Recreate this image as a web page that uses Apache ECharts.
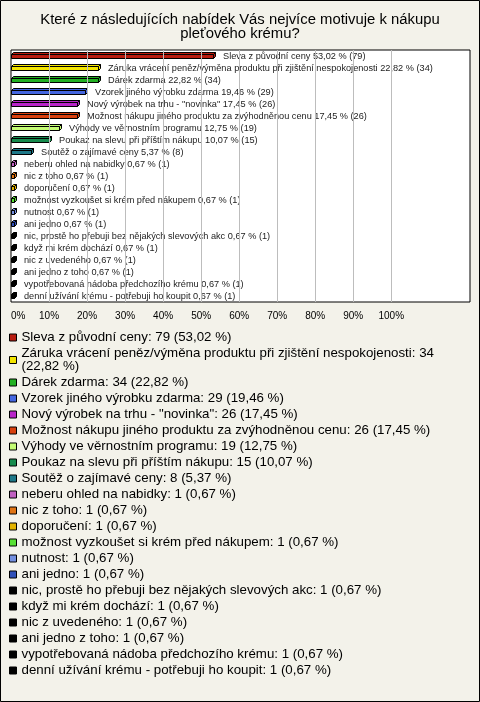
<!DOCTYPE html>
<html><head><meta charset="utf-8">
<script src="https://cdn.jsdelivr.net/npm/echarts@6/dist/echarts.min.js"></script>
<style>html,body{margin:0;padding:0;background:#F3F2EA}#c{width:480px;height:702px}</style>
</head><body><div id="c"></div>
<script>
const titleText = 'Které z následujících nabídek Vás nejvíce motivuje k nákupu\npleťového krému?';
const categories = [
  'Sleva z původní ceny',
  'Záruka vrácení peněz/výměna produktu při zjištění nespokojenosti',
  'Dárek zdarma',
  'Vzorek jiného výrobku zdarma',
  'Nový výrobek na trhu - "novinka"',
  'Možnost nákupu jiného produktu za zvýhodněnou cenu',
  'Výhody ve věrnostním programu',
  'Poukaz na slevu při příštím nákupu',
  'Soutěž o zajímavé ceny',
  'neberu ohled na nabidky',
  'nic z toho',
  'doporučení',
  'možnost vyzkoušet si krém před nákupem',
  'nutnost',
  'ani jedno',
  'nic, prostě ho přebuji bez nějakých slevových akc',
  'když mi krém dochází',
  'nic z uvedeného',
  'ani jedno z toho',
  'vypotřebovaná nádoba předchozího krému',
  'denní užívání krému - potřebuji ho koupit'
];
const counts =   [79, 34, 34, 29, 26, 26, 19, 15, 8, 1, 1, 1, 1, 1, 1, 1, 1, 1, 1, 1, 1];
const percents = [53.02, 22.82, 22.82, 19.46, 17.45, 17.45, 12.75, 10.07, 5.37, 0.67, 0.67, 0.67, 0.67, 0.67, 0.67, 0.67, 0.67, 0.67, 0.67, 0.67, 0.67];
const colors = ['#B81C10', '#F2E400', '#22B022', '#4466E0', '#B824C8', '#D8400E', '#C4FC74', '#168A4C', '#1E7888',
  '#C060C0', '#E07414', '#E4B400', '#58E034', '#7490E0', '#3050B8',
  '#000000', '#000000', '#000000', '#000000', '#000000', '#000000'];
const xTicks = [10, 20, 30, 40, 50, 60, 70, 80, 90, 100];

const FONT = '"Liberation Sans", Arial, sans-serif';
const fmt = v => v.toFixed(2).replace('.', ',');

const measureCtx = document.createElement('canvas').getContext('2d');
function wrapText(text, font, maxW) {
  measureCtx.font = font;
  const words = text.split(' ');
  const lines = [];
  let cur = '';
  words.forEach(w => {
    const t = cur ? cur + ' ' + w : w;
    if (cur && measureCtx.measureText(t).width > maxW) { lines.push(cur); cur = w; }
    else cur = t;
  });
  if (cur) lines.push(cur);
  return lines.join('\n');
}

function renderItem(params, api) {
  const v = api.value(0), ci = api.value(1);
  const p0 = api.coord([0, ci]);
  const p1 = api.coord([v, ci]);
  const color = api.visual('color');
  const d = 2;
  const x0 = Math.round(p0[0]) + 0.5;
  const x1 = Math.max(Math.round(p1[0]) + 0.5, x0 + 2);
  const yc = Math.round(p0[1]);
  const yT = yc - 1.5, yB = yc + 2.5;
  const stroke = '#000';
  return {
    type: 'group',
    children: [
      { type: 'polygon', shape: { points: [[x0, yT], [x0 + d, yT - d], [x1 + d, yT - d], [x1, yT]] },
        style: { fill: color, stroke, lineWidth: 1 } },
      { type: 'polygon', shape: { points: [[x1, yT], [x1 + d, yT - d], [x1 + d, yB - d], [x1, yB]] },
        style: { fill: color, stroke, lineWidth: 1 } },
      { type: 'rect', shape: { x: x0, y: yT, width: x1 - x0, height: yB - yT },
        style: { fill: color, stroke, lineWidth: 1 } },
      { type: 'text', x: x1 + 9.5, y: yc + 0.5,
        style: { text: categories[ci] + ' ' + fmt(percents[ci]) + ' % (' + counts[ci] + ')',
          fill: '#222', font: '9.2px ' + FONT, verticalAlign: 'middle', align: 'left' } }
    ]
  };
}

const series = categories.map((name, i) => ({
  type: 'custom', name: name, z: 3,
  itemStyle: { color: colors[i] },
  renderItem: renderItem,
  encode: { x: 0, y: 1 },
  data: [[percents[i], i]]
}));
series.push({
  type: 'line', name: 'grid', z: 1, data: [], silent: true,
  markLine: { symbol: 'none', silent: true, label: { show: false },
    lineStyle: { color: '#BDBDBD', type: 'solid', width: 1 },
    data: xTicks.map(v => ({ xAxis: v })) }
});

const chart = echarts.init(document.getElementById('c'), null, { renderer: 'canvas' });
chart.setOption({
  backgroundColor: '#F3F2EA',
  animation: false,
  textStyle: { fontFamily: FONT },
  title: { text: titleText, left: 'center', top: 13, padding: 0,
    textStyle: { fontSize: 14.85, fontWeight: 'normal', color: '#000', lineHeight: 14, fontFamily: FONT } },
  grid: { left: 11, right: 10, top: 50, bottom: 400, show: true, backgroundColor: '#fff',
    borderColor: '#000', borderWidth: 1, containLabel: false },
  xAxis: { type: 'value', min: 0, max: 120.7, interval: 10,
    splitLine: { show: false }, axisLine: { show: false }, axisTick: { show: false },
    axisLabel: { fontSize: 10, color: '#000', margin: 9, fontFamily: FONT, alignMinLabel: 'left',
      formatter: v => (v <= 100 && xTicks.concat([0]).indexOf(v) >= 0) ? v + '%' : '' } },
  yAxis: { type: 'category', data: categories, inverse: true,
    axisLine: { show: false }, axisTick: { show: false }, axisLabel: { show: false }, splitLine: { show: false } },
  legend: { orient: 'vertical', left: 9, top: 331, padding: 0, itemWidth: 7, itemHeight: 7, itemGap: 3,
    icon: 'rect', selectedMode: false, data: categories,
    itemStyle: { borderColor: '#000', borderWidth: 1 },
    formatter: name => { const i = categories.indexOf(name);
      return wrapText(name + ': ' + counts[i] + ' (' + fmt(percents[i]) + ' %)', '13.3px ' + FONT, 440); },
    textStyle: { fontSize: 13.3, color: '#000', lineHeight: 13, fontFamily: FONT } },
  graphic: [{ type: 'rect', z: 100, silent: true, shape: { x: 0.5, y: 0.5, width: 479, height: 701 },
    style: { fill: 'none', stroke: '#000', lineWidth: 1 } }],
  series: series
});
</script></body></html>
